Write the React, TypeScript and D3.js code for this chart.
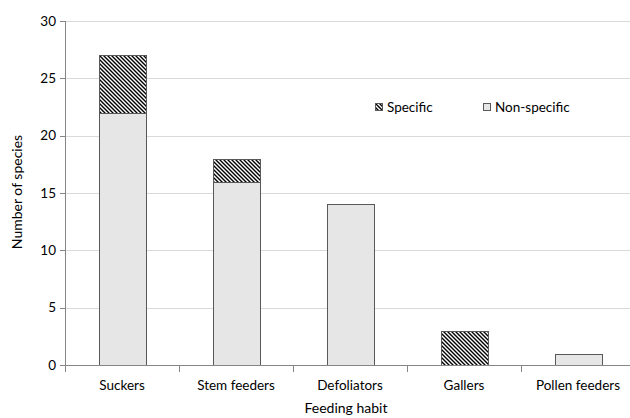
import React from "react";
import * as d3 from "d3";

const categories = ["Suckers", "Stem feeders", "Defoliators", "Gallers", "Pollen feeders"];
const nonSpecific = [22, 16, 14, 0, 1];
const specific = [5, 2, 0, 3, 0];
const yTicks = [0, 5, 10, 15, 20, 25, 30];

const W = 630;
const H = 418;
const FONT = "Lato, 'Open Sans', sans-serif";

export default function App() {
  const x = d3.scaleBand<string>().domain(categories).range([65, 635]).paddingInner(0).paddingOuter(0);
  const y = d3.scaleLinear().domain([0, 30]).range([365, 21]);
  const barW = x.bandwidth() * 0.41;
  const axisColor = "#868686";
  const gridColor = "#d9d9d9";
  const barStroke = "#595959";
  const fillNS = "#e6e6e6";

  return (
    <svg width={W} height={H} style={{ position: "absolute", left: 0, top: 0, background: "#fff" }} fontFamily={FONT}>
      <defs>
        <pattern id="hatch" patternUnits="userSpaceOnUse" width={4} height={4}>
          <rect width={4} height={4} fill="#fff" />
          <path d="M-1,-1 L5,5 M-1,3 L1,5 M3,-1 L5,1" stroke="#000" strokeWidth={1.4} />
        </pattern>
      </defs>
      {yTicks.filter((t) => t > 0).map((t) => (
        <line key={t} x1={65} x2={W} y1={Math.round(y(t)) + 0.5} y2={Math.round(y(t)) + 0.5} stroke={gridColor} strokeWidth={1} />
      ))}
      {categories.map((c, i) => {
        const bx = (x(c) as number) + (x.bandwidth() - barW) / 2;
        const y0 = y(0);
        const y1 = y(nonSpecific[i]);
        const y2 = y(nonSpecific[i] + specific[i]);
        return (
          <g key={c}>
            {nonSpecific[i] > 0 && (
              <rect x={Math.round(bx) + 0.5} y={Math.round(y1) + 0.5} width={Math.round(barW)} height={Math.round(y0) - Math.round(y1)} fill={fillNS} stroke={barStroke} strokeWidth={1} />
            )}
            {specific[i] > 0 && (
              <rect x={Math.round(bx) + 0.5} y={Math.round(y2) + 0.5} width={Math.round(barW)} height={Math.round(y1) - Math.round(y2)} fill="url(#hatch)" stroke={barStroke} strokeWidth={1} />
            )}
          </g>
        );
      })}
      <line x1={65.5} x2={65.5} y1={y(30)} y2={y(0)} stroke={axisColor} />
      {yTicks.map((t) => (
        <g key={t}>
          <line x1={60} x2={65} y1={Math.round(y(t)) + 0.5} y2={Math.round(y(t)) + 0.5} stroke={axisColor} />
          <text x={56} y={y(t)} dy="0.35em" textAnchor="end" fontSize={13.5} fill="#000">{t}</text>
        </g>
      ))}
      <line x1={65} x2={W} y1={365.5} y2={365.5} stroke={axisColor} />
      {categories.map((c) => (
        <line key={c} x1={Math.round(x(c) as number) + 0.5} x2={Math.round(x(c) as number) + 0.5} y1={365} y2={372} stroke={axisColor} />
      ))}
      {categories.map((c) => (
        <text key={c} x={(x(c) as number) + x.bandwidth() / 2} y={390} textAnchor="middle" fontSize={13.5} fill="#000">{c}</text>
      ))}
      <text transform={`translate(22,192) rotate(-90)`} textAnchor="middle" fontSize={14} fill="#000">Number of species</text>
      <text x={346} y={413} textAnchor="middle" fontSize={14} fill="#000">Feeding habit</text>
      <rect x={375.5} y={103.5} width={7} height={7} fill="url(#hatch)" stroke={barStroke} />
      <text x={387} y={107} dy="0.35em" fontSize={13.5} fill="#000">Specific</text>
      <rect x={483.5} y={103.5} width={7} height={7} fill={fillNS} stroke={barStroke} />
      <text x={495} y={107} dy="0.35em" fontSize={13.5} fill="#000">Non-specific</text>
    </svg>
  );
}
